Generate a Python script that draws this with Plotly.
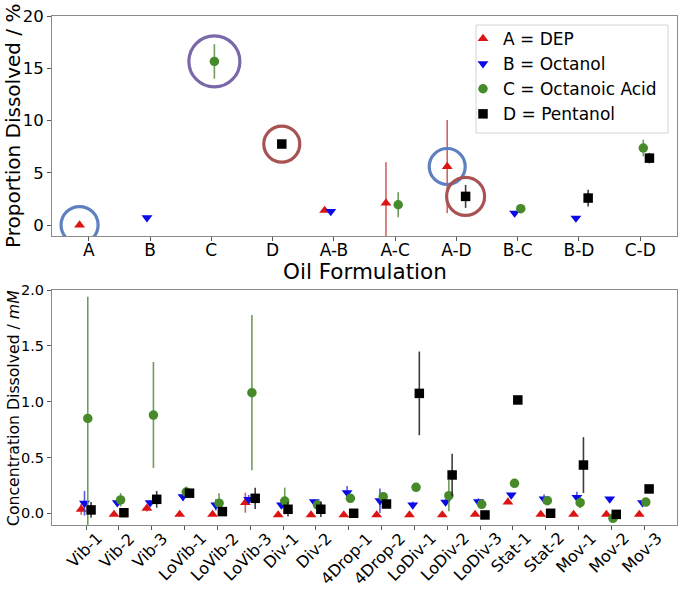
import plotly.graph_objects as go

# ---------------- data ----------------
top_cats = ["A", "B", "C", "D", "A-B", "A-C", "A-D", "B-C", "B-D", "C-D"]
top_A = [0.0, None, None, None, 1.4, 2.1, 5.6, None, None, None]
top_A_err = [0, None, None, None, 0, 3.9, 4.45, None, None, None]
top_B = [None, 0.7, None, None, 1.3, None, None, 1.15, 0.67, None]
top_B_err = [None, 0, None, None, 0, None, None, 0, 0, None]
top_C = [None, None, 15.65, None, None, 1.94, None, 1.56, None, 7.37]
top_C_err = [None, None, 1.65, None, None, 1.2, None, 0.35, None, 0.8]
top_D = [None, None, None, 7.75, None, None, 2.74, None, 2.58, 6.4]
top_D_err = [None, None, None, 0.2, None, None, 1.1, None, 0.8, 0.5]

bot_cats = ["Vib-1", "Vib-2", "Vib-3", "LoVib-1", "LoVib-2", "LoVib-3", "Div-1", "Div-2",
            "4Drop-1", "4Drop-2", "LoDiv-1", "LoDiv-2", "LoDiv-3", "Stat-1", "Stat-2",
            "Mov-1", "Mov-2", "Mov-3"]
bot_A = [0.036, -0.01, 0.045, -0.01, -0.01, 0.095, -0.015, -0.015, -0.015, -0.015,
         -0.015, -0.015, -0.01, 0.1, -0.01, -0.01, -0.01, -0.01]
bot_A_err = [0.05, 0, 0.03, 0, 0, 0.09, 0, 0, 0, 0, 0, 0, 0, 0, 0, 0, 0, 0]
bot_B = [0.09, 0.095, 0.095, 0.15, 0.075, 0.125, 0.075, 0.104, 0.185, 0.113,
         0.075, 0.1, 0.104, 0.164, 0.128, 0.143, 0.128, 0.095]
bot_B_err = [0.11, 0.02, 0.02, 0.04, 0.05, 0.04, 0.03, 0.02, 0.06, 0.11,
             0.03, 0.03, 0.03, 0.01, 0.04, 0.05, 0.01, 0.02]
bot_C = [0.85, 0.12, 0.88, 0.19, 0.09, 1.08, 0.11, 0.075, 0.134, 0.149,
         0.233, 0.158, 0.08, 0.268, 0.113, 0.095, -0.045, 0.10]
bot_C_err = [1.09, 0.06, 0.475, 0.05, 0.09, 0.695, 0.12, 0.05, 0.02, 0.04,
             0.01, 0.14, 0.02, 0.01, 0.03, 0.05, 0.01, 0.01]
bot_D = [0.03, 0.005, 0.125, 0.18, 0.015, 0.134, 0.036, 0.036, 0.0, 0.083,
         1.074, 0.343, -0.015, 1.015, 0.0, 0.432, -0.01, 0.218]
bot_D_err = [0.07, 0.01, 0.075, 0.03, 0.03, 0.095, 0.065, 0.07, 0.01, 0.02,
             0.375, 0.19, 0.01, 0.03, 0.01, 0.25, 0.01, 0.01]

series_names = ["A = DEP", "B = Octanol", "C = Octanoic Acid", "D = Pentanol"]

# highlighted points in the top panel: (category, series index, ring size, ring colour)
hl_cat = ["A", "C", "D", "A-D", "A-D"]
hl_series = [0, 2, 3, 0, 3]
hl_size = [37, 51, 36, 36, 38]
hl_color = ["#5f80c0", "#7a68a8", "#a85252", "#5f80c0", "#a85252"]

# ---------------- style ----------------
colors = ["#dd1414", "#0a0ae8", "#468a2a", "#000000"]
err_colors = ["rgba(200,70,70,0.85)", "rgba(60,60,220,0.85)",
              "rgba(95,145,70,0.9)", "rgba(40,40,40,0.9)"]
symbols = ["triangle-up", "triangle-down", "circle", "square"]
offsets = [-0.15, -0.05, 0.05, 0.15]
FONT = "DejaVu Sans"

# pixel layout helpers
W, H = 680, 590
ML, MR, MT, MB = 52, 3, 16, 65
PW, PH = W - ML - MR, H - MT - MB


def px_x(px):
    return (px - ML) / PW


def px_y(py):
    return (H - MB - py) / PH


fig = go.Figure()

top_vals = [top_A, top_B, top_C, top_D]
top_errs = [top_A_err, top_B_err, top_C_err, top_D_err]
bot_vals = [bot_A, bot_B, bot_C, bot_D]
bot_errs = [bot_A_err, bot_B_err, bot_C_err, bot_D_err]

for s in range(4):
    xs = [i + offsets[s] for i in range(len(top_cats))]
    fig.add_trace(go.Scatter(
        x=xs, y=top_vals[s], mode="markers", name=series_names[s],
        marker=dict(symbol=symbols[s], size=9.5, color=colors[s]),
        error_y=dict(type="data", array=top_errs[s], width=0, thickness=1.6,
                     color=err_colors[s]),
        xaxis="x", yaxis="y", showlegend=True))

for s in range(4):
    xs = [i + offsets[s] for i in range(len(bot_cats))]
    fig.add_trace(go.Scatter(
        x=xs, y=bot_vals[s], mode="markers", name=series_names[s],
        marker=dict(symbol=symbols[s], size=9.5, color=colors[s]),
        error_y=dict(type="data", array=bot_errs[s], width=0, thickness=1.6,
                     color=err_colors[s]),
        xaxis="x2", yaxis="y2", showlegend=False))

# highlight rings
for c, s, sz, col in zip(hl_cat, hl_series, hl_size, hl_color):
    i = top_cats.index(c)
    fig.add_trace(go.Scatter(
        x=[i + offsets[s]], y=[top_vals[s][i]], mode="markers",
        marker=dict(symbol="circle-open", size=sz, color=col,
                    line=dict(width=3.2, color=col)),
        xaxis="x", yaxis="y", showlegend=False, hoverinfo="skip"))

axis_common = dict(showline=True, linecolor="#8a8a8a", linewidth=1, mirror=True,
                   ticks="outside", ticklen=4, tickcolor="#555", showgrid=False,
                   zeroline=False, automargin=False)

annotations = [
    dict(text="Oil Formulation", xref="paper", yref="paper", x=0.5,
         y=px_y(271), xanchor="center", yanchor="middle",
         showarrow=False, font=dict(size=21.5, family=FONT)),
    dict(text="Proportion Dissolved / %", xref="paper", yref="paper",
         x=px_x(13), y=px_y(126), xanchor="center", yanchor="middle",
         textangle=-90, showarrow=False, font=dict(size=20, family=FONT)),
    dict(text="Concentration Dissolved / <i>mM</i>", xref="paper", yref="paper",
         x=px_x(13), y=px_y(408), xanchor="center", yanchor="middle",
         textangle=-90, showarrow=False, font=dict(size=15.7, family=FONT)),
]
# rotated category labels of the lower panel, centred under their ticks
for i, cat in enumerate(bot_cats):
    annotations.append(dict(
        text=cat, x=i, xref="x2", y=0, yref="paper", xanchor="center", yanchor="top",
        yshift=-1, xshift=-2, textangle=-45, showarrow=False,
        font=dict(size=16, family=FONT)))

fig.update_layout(
    width=W, height=H,
    margin=dict(l=ML, r=MR, t=MT, b=MB),
    paper_bgcolor="white", plot_bgcolor="white",
    font=dict(family=FONT, color="black"),
    xaxis=dict(domain=[0, 1], range=[-0.6, 9.6], tickmode="array",
               tickvals=list(range(len(top_cats))), ticktext=top_cats,
               tickfont=dict(size=17), anchor="y", ticklabelstandoff=-5, **axis_common),
    yaxis=dict(domain=[px_y(236), 1.0], range=[-1.05, 20], tickmode="array",
               tickvals=[0, 5, 10, 15, 20], ticktext=["0", "5", "10", "15", "20"],
               tickfont=dict(size=16.5), anchor="x", **axis_common),
    xaxis2=dict(domain=[0, 1], range=[-1.04, 18.0], tickmode="array",
                tickvals=list(range(len(bot_cats))), showticklabels=False,
                anchor="y2", **axis_common),
    yaxis2=dict(domain=[0, px_y(290)], range=[-0.105, 2.0], tickmode="array",
                tickvals=[0, 0.5, 1.0, 1.5, 2.0],
                ticktext=["0.0", "0.5", "1.0", "1.5", "2.0"],
                tickfont=dict(size=14.5), anchor="x2", **axis_common),
    legend=dict(x=px_x(463), y=px_y(21), xanchor="left", yanchor="top",
                bgcolor="rgba(0,0,0,0)", borderwidth=0,
                font=dict(size=17, family=FONT), tracegroupgap=0, itemwidth=30),
    showlegend=True,
    shapes=[dict(type="rect", xref="paper", yref="paper",
                 x0=px_x(476), x1=px_x(668), y0=px_y(133), y1=px_y(25),
                 line=dict(color="#d4d4d4", width=1),
                 fillcolor="rgba(255,255,255,0.85)", layer="above")],
    annotations=annotations,
)

fig.write_html("out.html", config={"displayModeBar": False},
               post_script="document.body.style.margin='0px';"
                           "document.body.style.overflow='hidden';")
